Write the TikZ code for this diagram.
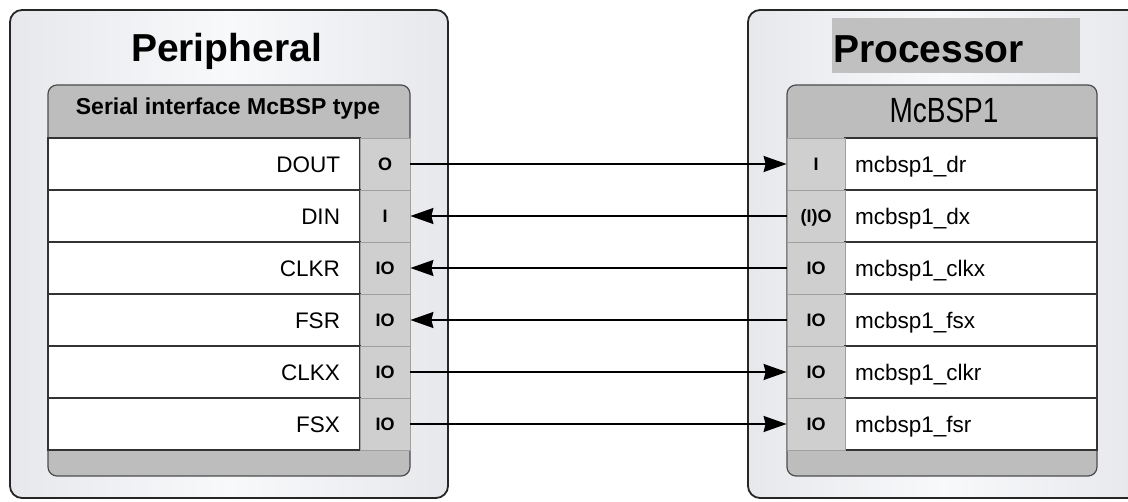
\documentclass[tikz,border=0pt]{standalone}
\usepackage{fontspec}
\setmainfont{Liberation Sans}
\usepackage{graphicx}
\usetikzlibrary{arrows.meta,positioning,calc}

\definecolor{boxside}{RGB}{230,232,235}
\definecolor{boxmid}{RGB}{248,249,251}
\definecolor{panelgray}{RGB}{189,189,189}
\definecolor{pingray}{RGB}{207,207,207}
\definecolor{titlegray}{RGB}{192,192,192}

\begin{document}
\begin{tikzpicture}[x=1pt, y=-1pt,
  outerbox/.style={rectangle, draw=black!85, line width=1.8pt, rounded corners=12pt,
                   inner sep=0pt, left color=boxside, right color=boxside,
                   middle color=boxmid},
  panel/.style={rectangle, draw=black!70, line width=1.2pt, rounded corners=9pt,
                inner sep=0pt, fill=panelgray},
  sigleft/.style={rectangle, draw=black!80, line width=1.2pt, fill=white,
                  minimum height=52pt, inner xsep=20pt, inner ysep=0pt,
                  text width=272pt, align=right, text height=18pt, text depth=0pt,
                  font=\fontsize{22.5}{24}\selectfont},
  sigright/.style={rectangle, draw=black!80, line width=1.2pt, fill=white,
                   minimum height=52pt, inner xsep=10pt, inner ysep=0pt,
                   text width=232pt, align=left, text height=18pt, text depth=0pt,
                   font=\fontsize{22.5}{24}\selectfont},
  pin/.style={rectangle, draw=gray!75, line width=0.8pt, fill=pingray,
              minimum height=52pt, inner sep=0pt, text height=13pt, text depth=0pt,
              font=\fontsize{18}{20}\selectfont\bfseries},
  title/.style={inner sep=0pt, font=\fontsize{39}{44}\selectfont\bfseries},
  header/.style={inner sep=0pt, font=\fontsize{23}{26}\selectfont\bfseries},
  fwd/.style={draw, line width=1.5pt, -{Stealth[length=23pt, width=16pt, inset=2pt]}},
  bwd/.style={draw, line width=1.5pt, {Stealth[length=23pt, width=16pt, inset=2pt]}-},
]
  \useasboundingbox (0,0) rectangle (1128,502);
  \clip (0,0) rectangle (1128,502);
  \fill[white] (0,0) rectangle (1128,502);

  % ========= PERIPHERAL (left container) =========
  \node[outerbox, minimum width=438pt, minimum height=488pt] (periph) at (229,254) {};
  \node[title, anchor=base] (periphtitle) at (226.5,62) {Peripheral};
  \node[panel, minimum width=362pt, minimum height=391pt] (lpanel) at (229,280.5) {};
  \node[header, anchor=base] (lheader) at (228,115) {Serial interface McBSP type};

  % ========= PROCESSOR (right container) =========
  \node[outerbox, minimum width=392pt, minimum height=488pt] (proc) at (944,254) {};
  \node[fill=titlegray, inner sep=0pt, minimum width=248pt, minimum height=55pt]
       (proctitlebg) at (956,45.5) {};
  \node[title, anchor=base west] (proctitle) at (833,63) {Processor};
  \node[panel, minimum width=310pt, minimum height=391pt] (rpanel) at (942,280.5) {};
  \node[header, font=\fontsize{28}{30}\selectfont, anchor=base] (rheader)
       at (944,123) {\scalebox{1}[1.25]{McBSP1}};

  % Signal rows and links
  \foreach \lname/\lpin/\rpin/\rname/\dir [count=\i] in {
      DOUT/O/I/mcbsp1\_dr/fwd,
      DIN/I/{(I)O}/mcbsp1\_dx/bwd,
      CLKR/IO/IO/mcbsp1\_clkx/bwd,
      FSR/IO/IO/mcbsp1\_fsx/bwd,
      CLKX/IO/IO/mcbsp1\_clkr/fwd,
      FSX/IO/IO/mcbsp1\_fsr/fwd} {
    \pgfmathsetmacro\yc{164+52*(\i-1)}
    \node[sigleft, minimum width=312pt] (ls\i) at (204,\yc) {\lname};
    \node[pin, minimum width=50pt] (lp\i) at (385,\yc) {\lpin};
    \node[sigright, minimum width=252pt] (rs\i) at (971,\yc) {\rname};
    \node[pin, minimum width=58pt] (rp\i) at (816,\yc) {\rpin};
    \draw[\dir] (lp\i.east) -- (rp\i.west);
  }

\end{tikzpicture}
\end{document}
